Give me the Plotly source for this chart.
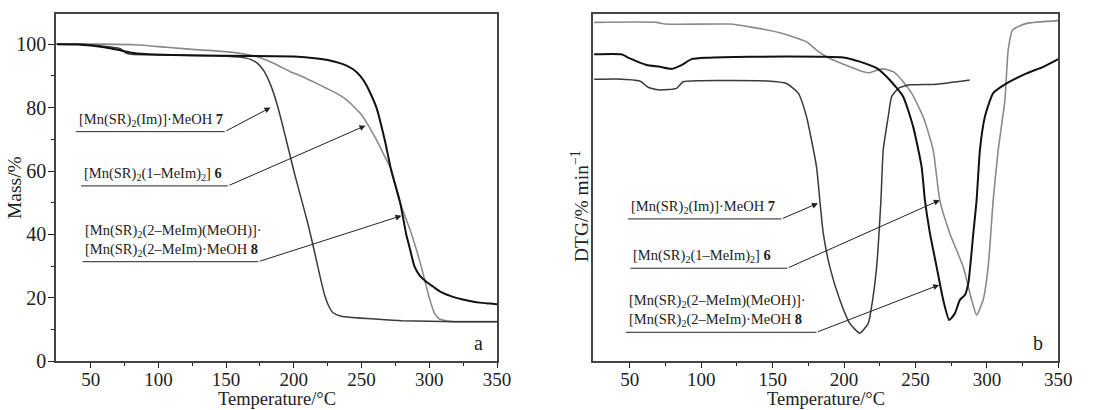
import plotly.graph_objects as go
from plotly.subplots import make_subplots

# ---------------- Data ----------------
# Panel a: TGA mass / %
tga7_T = [25, 45, 55, 65, 72, 76, 80, 100, 130, 150, 160, 168, 173, 178, 183, 188, 194, 200, 205, 210, 212, 215, 220, 223, 226, 229, 235, 243, 260, 280, 300, 320, 350]
tga7_M = [100, 100, 99.6, 99.1, 98.6, 97.2, 96.8, 96.6, 96.4, 96.2, 95.9, 95.2, 94.0, 91.5, 87.0, 80.5, 70.5, 60.0, 52.0, 44.0, 40.5, 35.0, 25.5, 20.5, 17.2, 15.3, 14.2, 13.8, 13.3, 12.8, 12.6, 12.5, 12.5]

tga8_T = [25, 40, 50, 60, 70, 80, 90, 110, 150, 200, 217, 225, 234, 240, 244, 249, 253, 256, 261, 267, 272, 278.5, 283, 286, 289, 293, 298, 303, 308, 315, 320, 330, 337, 345, 350]
tga8_M = [100, 99.9, 99.6, 99.0, 98.2, 97.3, 96.9, 96.6, 96.3, 96.1, 95.5, 95.0, 94.0, 93.0, 92.0, 90.0, 87.5, 85.0, 80.0, 70.0, 60.0, 50.0, 40.0, 35.0, 30.0, 27.0, 25.0, 23.5, 22.0, 20.7, 20.0, 19.0, 18.5, 18.2, 18.0]

tga6_T = [25, 60, 83, 106, 130, 155, 172, 185, 197, 206, 214, 224, 232, 239, 249, 254, 261, 266, 272, 278.5, 287, 294, 300, 304, 307, 310, 315, 325, 350]
tga6_M = [100, 100, 99.8, 99.0, 98.2, 97.4, 96.1, 94.0, 91.4, 89.8, 88.2, 86.1, 84.4, 82.4, 78.2, 75.1, 69.8, 65.5, 60.3, 50.0, 40.0, 30.0, 20.0, 15.0, 13.5, 13.0, 12.6, 12.5, 12.5]

# Panel b: DTG (arbitrary units)
dtg6_T = [25, 68.7, 74.5, 120, 134, 157, 173.7, 180.7, 187.8, 204, 213.4, 218, 223.9, 227.4, 234.4, 241.4, 247.3, 255.4, 262.4, 267, 274, 283.4, 289.3, 292.8, 297.4, 300.9, 304.4, 307.9, 312.6, 314.9, 318, 327.8, 350]
dtg6_D = [97.6, 97.6, 97.1, 97.1, 96.3, 94.4, 92.0, 89.6, 87.7, 84.8, 83.4, 83.1, 83.9, 84.2, 83.4, 80.5, 77.2, 70.4, 60.8, 46.4, 36.9, 27.2, 17.7, 13.3, 17.7, 27.2, 46.4, 60.8, 75.2, 89.6, 95.4, 97.3, 98.1]

dtg8_T = [25, 44, 50, 61.7, 71, 79.2, 86.2, 93.2, 103.7, 134, 185, 199.4, 211, 222.8, 232, 241.4, 248.4, 254.3, 256.6, 260.1, 264.8, 269.4, 273.6, 277.6, 281.1, 284.6, 287, 290.5, 292.8, 295.1, 298.6, 304.4, 313.8, 327.8, 339.5, 350]
dtg8_D = [88.4, 88.4, 87.2, 85.3, 84.8, 84.2, 85.3, 87.0, 87.4, 87.7, 87.7, 87.5, 86.3, 84.4, 81.0, 76.2, 67.5, 56.0, 46.4, 36.9, 27.2, 17.7, 11.9, 13.8, 17.7, 19.1, 22.5, 36.9, 46.4, 60.8, 70.4, 77.2, 80.0, 82.9, 84.8, 87.0]

dtg7_T = [25, 40.7, 57, 62.8, 71, 82.7, 87.3, 99, 145.7, 159.7, 167.9, 173.7, 180.7, 183, 185.4, 190, 197, 204, 211, 216.9, 220, 222.8, 225.8, 227.4, 230.9, 233.3, 238, 246.1, 264.8, 288]
dtg7_D = [81.2, 81.3, 80.7, 78.9, 78.1, 78.6, 80.5, 80.8, 80.7, 80.0, 77.2, 70.4, 56.0, 46.4, 36.9, 27.2, 17.7, 10.9, 8.1, 10.9, 17.7, 27.2, 46.4, 60.8, 70.4, 76.2, 78.6, 79.6, 79.8, 81.0]

# Labels
label7 = "[Mn(SR)<sub>2</sub>(Im)]·MeOH <b>7</b>"
label6 = "[Mn(SR)<sub>2</sub>(1–MeIm)<sub>2</sub>] <b>6</b>"
label8 = "[Mn(SR)<sub>2</sub>(2–MeIm)(MeOH)]·<br>[Mn(SR)<sub>2</sub>(2–MeIm)·MeOH <b>8</b>"
x_ticks = [50, 100, 150, 200, 250, 300, 350]
y_ticks_a = [0, 20, 40, 60, 80, 100]

# Leader geometry: (label, underline x0, underline x1, underline y, arrow tip x, arrow tip y)
leaders_a = [(label7, 39.2, 149.0, 72.4, 182.8, 80.0),
             (label6, 42.9, 151.3, 55.3, 252.9, 74.3),
             (label8, 44.1, 173.7, 31.4, 279.5, 45.9)]
leaders_b = [(label7, 48.8, 156.2, 41.0, 181.7, 45.5),
             (label6, 50.5, 160.2, 26.8, 267.0, 46.4),
             (label8, 47.2, 180.7, 8.35, 266.6, 22.0)]

FONT = "Liberation Serif"
DARK = "#222222"

fig = make_subplots(rows=1, cols=2)

def add(x, y, color, width, col):
    fig.add_trace(go.Scatter(x=x, y=y, mode="lines",
                             line=dict(color=color, width=width, shape="spline", smoothing=0.5),
                             showlegend=False, hoverinfo="skip"), row=1, col=col)

add(tga6_T, tga6_M, "#8a8a8a", 1.6, 1)
add(tga7_T, tga7_M, "#3a3a3a", 1.5, 1)
add(tga8_T, tga8_M, "#111111", 2.0, 1)

add(dtg6_T, dtg6_D, "#8a8a8a", 1.6, 2)
add(dtg7_T, dtg7_D, "#3a3a3a", 1.5, 2)
add(dtg8_T, dtg8_D, "#111111", 2.0, 2)

annotations = []
shapes = []
for (xr, yr, leaders) in (("x", "y", leaders_a), ("x2", "y2", leaders_b)):
    for (txt, x0, x1, yu, xt, yt) in leaders:
        shapes.append(dict(type="line", xref=xr, yref=yr, x0=x0, x1=x1, y0=yu, y1=yu,
                           line=dict(color=DARK, width=1)))
        annotations.append(dict(xref=xr, yref=yr, x=xt, y=yt, axref=xr, ayref=yr, ax=x1, ay=yu,
                                text="", showarrow=True, arrowhead=2, arrowsize=1.2,
                                arrowwidth=1, arrowcolor=DARK))
        annotations.append(dict(xref=xr, yref=yr, x=x0 + 0.5, y=yu, text=txt, showarrow=False,
                                xanchor="left", yanchor="bottom", align="left", yshift=1,
                                font=dict(family=FONT, size=14.5, color=DARK)))

annotations.append(dict(xref="x", yref="y", x=336.6, y=5.8, text="a", showarrow=False,
                        xanchor="center", yanchor="middle",
                        font=dict(family=FONT, size=20, color=DARK)))
annotations.append(dict(xref="x2", yref="y2", x=336.0, y=5.2, text="b", showarrow=False,
                        xanchor="center", yanchor="middle",
                        font=dict(family=FONT, size=20, color=DARK)))

# Axis titles
annotations.append(dict(xref="paper", yref="paper", x=15 / 1093, y=1 - 188 / 410, text="Mass/%",
                        textangle=-90, showarrow=False, xanchor="center", yanchor="middle",
                        font=dict(family=FONT, size=19.5, color=DARK)))
annotations.append(dict(xref="paper", yref="paper", x=580 / 1093, y=1 - 207 / 410,
                        text="DTG/% min<sup>−1</sup>", textangle=-90, showarrow=False,
                        xanchor="center", yanchor="middle",
                        font=dict(family=FONT, size=19.5, color=DARK)))
for xc in (276.5, 825.8):
    annotations.append(dict(xref="paper", yref="paper", x=xc / 1093, y=1 - 398.5 / 410,
                            text="Temperature/°C", showarrow=False,
                            xanchor="center", yanchor="middle",
                            font=dict(family=FONT, size=18.5, color=DARK)))

xaxis_common = dict(range=[24.4, 350], tickvals=x_ticks, ticks="outside", ticklen=5, tickwidth=1,
                    tickcolor=DARK, showline=True, linecolor="#444444", linewidth=1.5, mirror=True,
                    showgrid=False, zeroline=False, automargin=False, ticklabelstandoff=-5,
                    tickfont=dict(family=FONT, size=19, color=DARK),
                    minor=dict(tickvals=[75, 125, 175, 225, 275, 325], ticks="outside", ticklen=3,
                               tickcolor=DARK, showgrid=False))

fig.update_layout(
    width=1093, height=410,
    margin=dict(l=0, r=0, t=0, b=0, autoexpand=False),
    paper_bgcolor="white", plot_bgcolor="white",
    xaxis=dict(domain=[56 / 1093, 497 / 1093], **xaxis_common),
    xaxis2=dict(domain=[593.3 / 1093, 1058.3 / 1093], **xaxis_common),
    yaxis=dict(domain=[1 - 361.3 / 410, 1 - 14 / 410], range=[0, 109.5], tickvals=y_ticks_a,
               ticks="outside", ticklen=6, tickwidth=1, tickcolor=DARK,
               showline=True, linecolor="#444444", linewidth=1.5, mirror=True,
               showgrid=False, zeroline=False, automargin=False, ticklabelstandoff=-2,
               tickfont=dict(family=FONT, size=20, color=DARK),
               minor=dict(tickvals=[10, 30, 50, 70, 90], ticks="outside", ticklen=3,
                          tickcolor=DARK, showgrid=False)),
    yaxis2=dict(domain=[1 - 361.3 / 410, 1 - 14 / 410], range=[0, 100], showticklabels=False,
                ticks="", showline=True, linecolor="#444444", linewidth=1.5, mirror=True,
                showgrid=False, zeroline=False, automargin=False),
    annotations=annotations,
    shapes=shapes,
)

fig.write_html("out.html")
